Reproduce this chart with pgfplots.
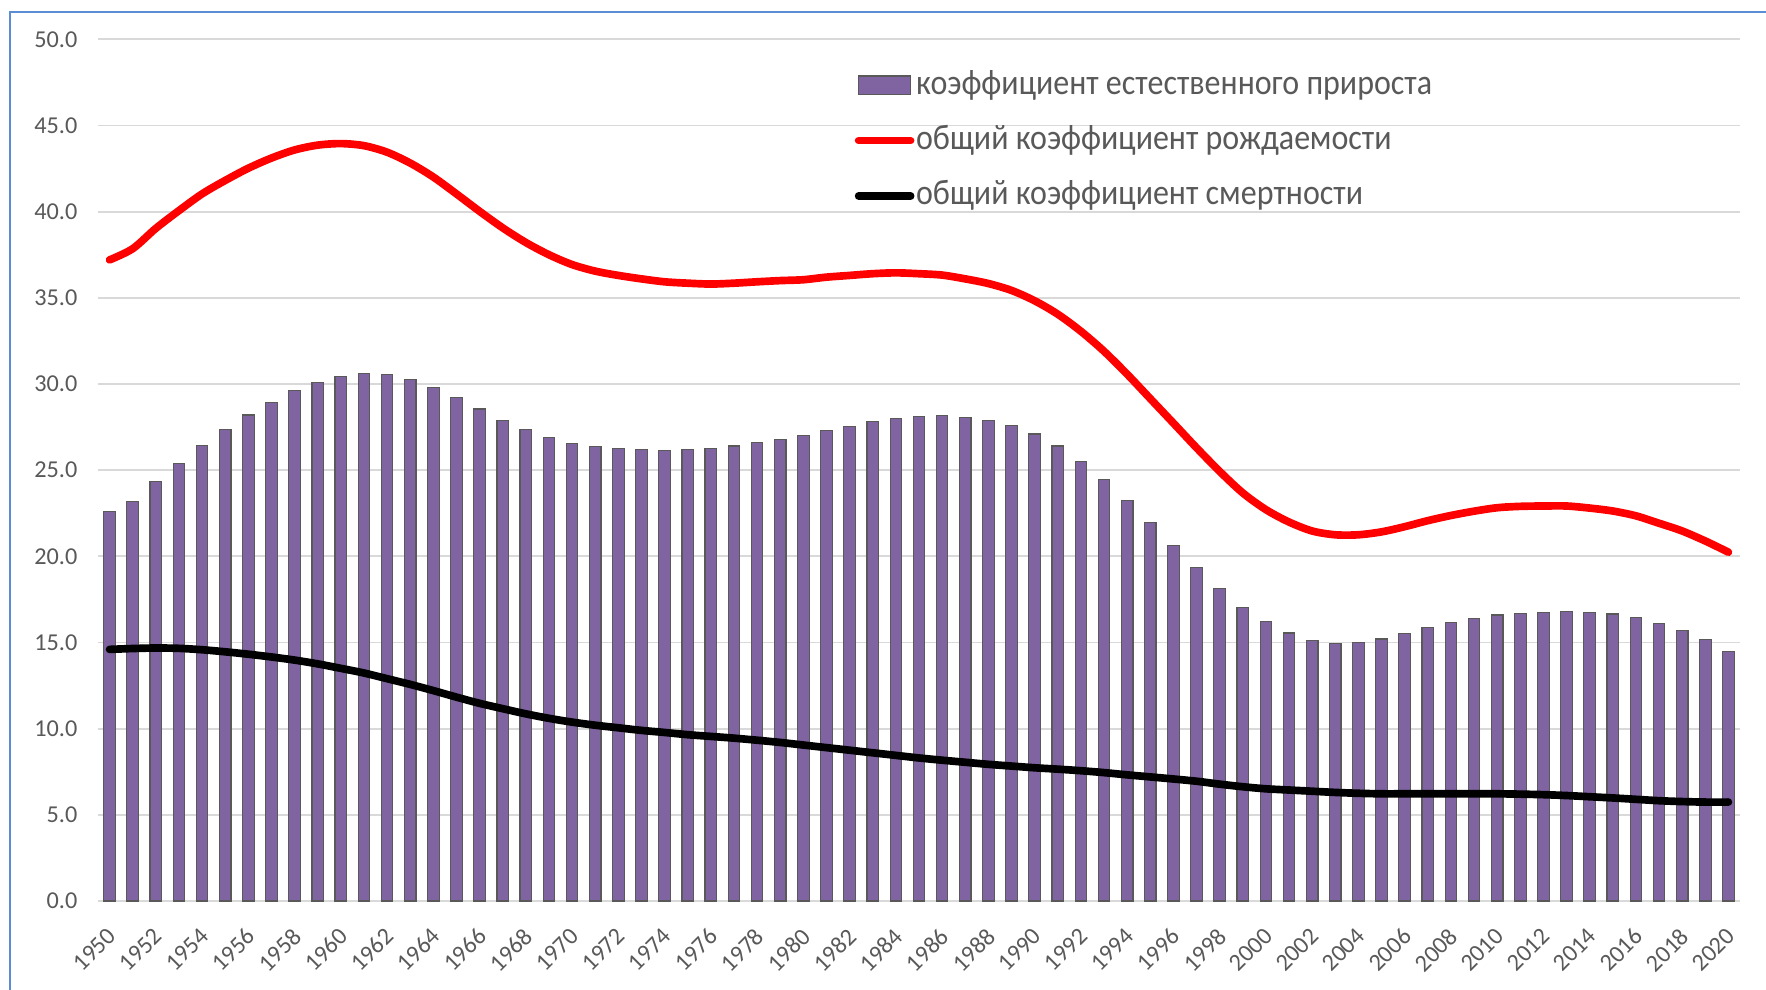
\documentclass[border=0pt]{standalone}
\usepackage{fontspec}
\setmainfont{Carlito}
\newfontfamily\legfont[FakeStretch=0.9]{Carlito}
\usepackage{pgfplots}
\pgfplotsset{compat=1.18}
\usepackage{pgfplotstable}
\definecolor{barfill}{RGB}{128,100,162}
\definecolor{bardraw}{RGB}{89,89,89}
\definecolor{gridc}{RGB}{217,217,217}
\definecolor{txt}{RGB}{89,89,89}
\definecolor{bordc}{RGB}{91,141,213}

\pgfplotstableread{
year nat birth death
1950 22.60 37.20 14.60
1951 23.20 37.85 14.65
1952 24.35 39.03 14.68
1953 25.40 40.06 14.66
1954 26.45 41.03 14.58
1955 27.35 41.81 14.46
1956 28.20 42.52 14.32
1957 28.95 43.11 14.16
1958 29.60 43.58 13.98
1959 30.10 43.86 13.76
1960 30.45 43.95 13.50
1961 30.60 43.83 13.23
1962 30.55 43.45 12.90
1963 30.25 42.82 12.57
1964 29.80 42.01 12.21
1965 29.20 41.03 11.83
1966 28.55 40.02 11.47
1967 27.90 39.06 11.16
1968 27.35 38.21 10.86
1969 26.90 37.50 10.60
1970 26.55 36.93 10.38
1971 26.35 36.55 10.20
1972 26.25 36.30 10.05
1973 26.20 36.10 9.90
1974 26.15 35.93 9.78
1975 26.20 35.85 9.65
1976 26.25 35.80 9.55
1977 26.40 35.85 9.45
1978 26.60 35.93 9.33
1979 26.80 36.00 9.20
1980 27.00 36.05 9.05
1981 27.30 36.20 8.90
1982 27.55 36.30 8.75
1983 27.80 36.40 8.60
1984 28.00 36.45 8.45
1985 28.10 36.40 8.30
1986 28.15 36.32 8.17
1987 28.05 36.10 8.05
1988 27.90 35.83 7.93
1989 27.60 35.43 7.83
1990 27.10 34.83 7.73
1991 26.40 34.05 7.65
1992 25.50 33.06 7.56
1993 24.45 31.90 7.45
1994 23.25 30.57 7.32
1995 21.95 29.15 7.20
1996 20.65 27.73 7.08
1997 19.35 26.30 6.95
1998 18.15 24.93 6.78
1999 17.05 23.68 6.63
2000 16.20 22.71 6.51
2001 15.55 21.99 6.44
2002 15.10 21.47 6.37
2003 14.95 21.25 6.30
2004 15.00 21.25 6.25
2005 15.20 21.42 6.22
2006 15.50 21.72 6.22
2007 15.85 22.07 6.22
2008 16.15 22.37 6.22
2009 16.40 22.62 6.22
2010 16.60 22.82 6.22
2011 16.70 22.90 6.20
2012 16.75 22.92 6.17
2013 16.80 22.92 6.12
2014 16.75 22.80 6.05
2015 16.65 22.63 5.98
2016 16.45 22.35 5.90
2017 16.10 21.92 5.82
2018 15.70 21.47 5.77
2019 15.15 20.89 5.74
2020 14.50 20.24 5.74
}\data

\begin{document}
\begin{tikzpicture}
\begin{axis}[
  at={(0,0)}, anchor=south west,
  scale only axis, width=492.6bp, height=258.5bp,
  xmin=1949.5, xmax=2020.5, ymin=0, ymax=50,
  axis line style={draw=none},
  tick style={draw=none},
  ymajorgrids,
  major grid style={gridc, line width=0.55bp},
  xtick={1950,1952,...,2020},
  ytick={0,5,...,50},
  /pgf/number format/assume math mode=true,
  xticklabel={\pgfmathprintnumber[1000 sep={}]{\tick}},
  yticklabel={\pgfmathprintnumber[fixed, fixed zerofill, precision=1]{\tick}},
  tick label style={font=\fontsize{7.3}{8.5}\selectfont, text=txt},
  xticklabel style={rotate=45, anchor=north east, inner sep=1bp, xshift=-4.95bp, yshift=-3.54bp},
  yticklabel style={anchor=east, inner sep=1bp, xshift=-5bp},
  legend cell align=left,
  legend style={at={(0.4605,0.966)}, anchor=north west, draw=none, fill=none,
    inner sep=0pt, row sep=6.6bp,
    font=\legfont\fontsize{10.7}{12}\selectfont, text=txt,
    nodes={text height=7bp, text depth=2bp, inner sep=0.5bp}},
]
\addplot[ybar, bar width=0.5, fill=barfill, draw=bardraw, line width=0.35bp,
  legend image code/.code={\draw[fill=barfill, draw=bardraw, line width=0.35bp] (0bp,-2.5bp) rectangle (15.6bp,3.0bp);}]
  table[x=year, y=nat]{\data};
\addlegendentry{коэффициент естественного прироста}
\addplot[red, line width=2.3bp, smooth, line cap=round, line join=round,
  legend image code/.code={\draw[red, line width=2.3bp, line cap=round] (0bp,0.2bp) -- (15.6bp,0.2bp);}]
  table[x=year, y=birth]{\data};
\addlegendentry{общий коэффициент рождаемости}
\addplot[black, line width=2.3bp, smooth, line cap=round, line join=round,
  legend image code/.code={\draw[black, line width=2.3bp, line cap=round] (0bp,0.2bp) -- (15.6bp,0.2bp);}]
  table[x=year, y=death]{\data};
\addlegendentry{общий коэффициент смертности}
\end{axis}
\draw[bordc, line width=0.7bp] (-26.4bp,-40bp) -- (-26.4bp,266.7bp) -- (520bp,266.7bp);
\pgfresetboundingbox
\path[use as bounding box] (-29.4bp,-26.4bp) rectangle (500.4bp,270.3bp);
\end{tikzpicture}
\end{document}
